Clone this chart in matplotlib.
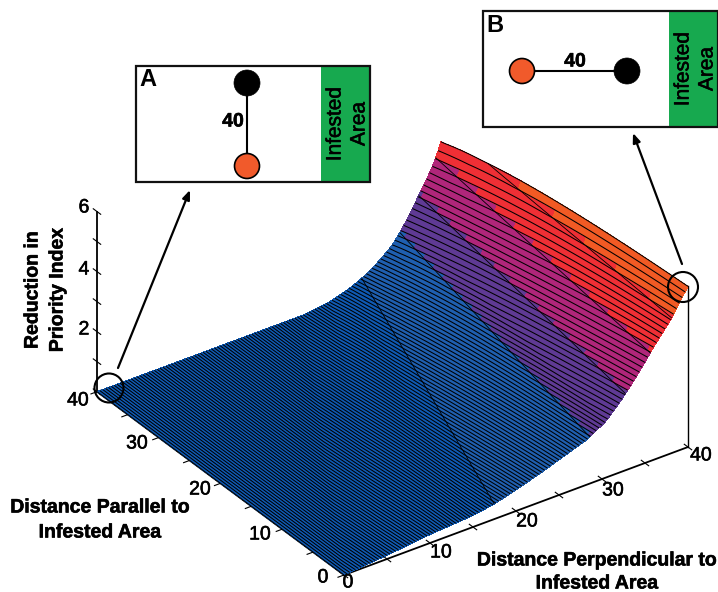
import numpy as np
import matplotlib
matplotlib.use("Agg")
import matplotlib.pyplot as plt
import matplotlib.patheffects as pe
from matplotlib.patches import Circle, Rectangle
from mpl_toolkits.mplot3d import proj3d

plt.rcParams["font.family"] = ["Liberation Sans", "DejaVu Sans"]

W, H = 718, 592

# surface: distance at which each height is reached on the two outer edges
heights = [0, .12, .28, .38, .5, .7, .95, 1.22, 1.5, 1.88, 2.4, 2.98, 3.35, 3.75, 4.1, 4.45, 4.9, 5.35]
x_near = [0, 5, 10, 15, 17.5, 20, 22.8, 25.5, 28.3, 30.5, 32.3, 34, 35, 36, 37, 38, 39, 40]
x_far = [24, 27.2, 29, 29.9, 30.8, 32, 33.2, 34.3, 35.1, 36, 37.1, 38.3, 39, 39.6, 40.05, 40.4, 40.8, 41.2]
y_edges = [0, 40]

band_levels = [0.5, 1.55, 2.55, 3.6, 4.5]
band_colors = ["#0f5ab4", "#1f5fb0", "#5f3a94", "#b0267a", "#ef2f35", "#f15a24"]

tick_x = [0, 5, 10, 15, 20, 25, 30, 35, 40]
tick_z = [0, 1, 2, 3, 4, 5, 6]

# target pixel positions used to fit the 3d box on the page
ORIGIN_PX = (344, 575)
LEFT_PX = (97, 390)
RIGHT_PX = (688, 447)

fig = plt.figure(figsize=(W / 100, H / 100), dpi=100)
side = 900
ax = fig.add_axes([0, 0, side / W, side / H], projection="3d", computed_zorder=False)
ax.patch.set_alpha(0)
ax.set_proj_type("ortho")
ax.view_init(elev=31.7, azim=234.7)
ax.set_xlim(0, 40)
ax.set_ylim(0, 40)
ax.set_zlim(0, 6)
ax.set_axis_off()


def to_px(a, x, y, z):
    xs, ys, _ = proj3d.proj_transform(x, y, z, a.get_proj())
    return a.transData.transform((xs, ys))


# fit scale and position so the base corners land where they do in the figure
ax.set_box_aspect((421, 427, 211.5), zoom=1.0)
ax.apply_aspect()
span = to_px(ax, 40, 0, 0)[0] - to_px(ax, 0, 40, 0)[0]
ax.set_box_aspect((421, 427, 211.5), zoom=(RIGHT_PX[0] - LEFT_PX[0]) / span)
ax.apply_aspect()
p = to_px(ax, 0, 0, 0)
ax.set_position([(ORIGIN_PX[0] - p[0]) / W, ((H - ORIGIN_PX[1]) - p[1]) / H, side / W, side / H])
ax.apply_aspect()

# dense render mesh between the read values, height bands stay straight across the sheet
x = np.linspace(0, 40, 121)
y = np.linspace(0, 40, 81)
X, Y = np.meshgrid(x, y)
Z = np.zeros_like(X)
for i, yy in enumerate(y):
    t = (yy - y_edges[0]) / (y_edges[1] - y_edges[0])
    row_x = np.array(x_near) * (1 - t) + np.array(x_far) * t
    Z[i] = np.interp(x, row_x, heights)

idx = np.digitize(Z, band_levels)
colors = np.array([matplotlib.colors.to_rgba(band_colors[i]) for i in idx.ravel()]).reshape(Z.shape + (4,))

# axis lines and ticks sit under the surface
ax.plot([0, 40], [0, 0], [0, 0], color="k", lw=1.3, zorder=1)
ax.plot([0, 0], [0, 40], [0, 0], color="k", lw=1.3, zorder=1)
ax.plot([0, 0], [40, 40], [0, 6], color="k", lw=1.3, zorder=1)
ax.plot([40, 40], [0, 0], [0, heights[-1]], color="k", lw=1.0, zorder=1)
for t in tick_x:
    ax.plot([t, t], [-0.6, 0.6], [0, 0], color="k", lw=0.8, zorder=1)
    ax.plot([-0.7, 0.5], [t, t], [0, 0], color="k", lw=0.8, zorder=1)
for t in tick_z:
    ax.plot([0, 0], [39.4, 40.6], [t, t], color="k", lw=0.8, zorder=1)

ax.plot_surface(X, Y, Z, facecolors=colors, rstride=1, cstride=1, shade=False,
                linewidth=0, antialiased=False, zorder=2)
ax.plot_wireframe(X, Y, Z, rstride=0, cstride=1, color="k", lw=0.75, zorder=3)
ax.contour(X, Y, Z, levels=band_levels, colors="k", linewidths=0.6, zorder=4)

# page overlay in pixel coordinates: labels, insets, arrows
pg = fig.add_axes([0, 0, 1, 1], zorder=5)
pg.set_xlim(0, W)
pg.set_ylim(H, 0)
pg.axis("off")
pg.patch.set_alpha(0)

heavy = [pe.withStroke(linewidth=0.4, foreground="k")]

tick_labels = [
    (78, 401, "40"), (137, 444, "30"), (200, 490, "20"), (260, 535, "10"), (323, 578, "0"),
    (348, 583, "0"), (441, 553, "10"), (527, 522, "20"), (613, 491, "30"), (701, 456, "40"),
    (84, 208, "6"), (84, 270, "4"), (84, 330, "2"),
]
for tx, ty, s in tick_labels:
    pg.text(tx, ty, s, fontsize=14, ha="center", va="center", color="k", path_effects=heavy)

for tx, ty, s in [(100, 508, "Distance Parallel to"), (100, 533, "Infested Area"),
                  (597, 561, "Distance Perpendicular to"), (597, 584, "Infested Area")]:
    pg.text(tx, ty, s, fontsize=14, fontweight="bold", ha="center", va="center", path_effects=heavy)

pg.text(33, 290, "Reduction in", fontsize=14, fontweight="bold", rotation=90, ha="center", va="center",
        path_effects=heavy)
pg.text(58, 290, "Priority Index", fontsize=14, fontweight="bold", rotation=90, ha="center", va="center",
        path_effects=heavy)


def inset(left, right, top, bottom, green_x, label, label_xy, orange, black, num_xy):
    pg.add_patch(Rectangle((left, top), right - left, bottom - top, fc="white", ec="none"))
    pg.add_patch(Rectangle((green_x, top), right - green_x, bottom - top, fc="#17a94f", ec="none"))
    pg.add_patch(Rectangle((left, top), right - left, bottom - top, fc="none", ec="#111111", lw=1.6))
    pg.plot([orange[0], black[0]], [orange[1], black[1]], color="k", lw=1.5)
    pg.add_patch(Circle(orange, 12.5, fc="#f15a2b", ec="k", lw=1.2, zorder=4))
    pg.add_patch(Circle(black, 13, fc="k", ec="k", lw=0.5, zorder=4))
    pg.text(label_xy[0], label_xy[1], label, fontsize=17, fontweight="bold", ha="center", va="center")
    pg.text(num_xy[0], num_xy[1], "40", fontsize=14, fontweight="bold", ha="center", va="center",
            path_effects=heavy)
    mid = (top + bottom) / 2
    pg.text(green_x + 14, mid, "Infested", fontsize=15, rotation=90, ha="center", va="center", path_effects=heavy)
    pg.text(green_x + 38, mid, "Area", fontsize=15, rotation=90, ha="center", va="center", path_effects=heavy)


inset(136, 370, 66, 182, 321, "A", (148, 79), (247, 166), (247, 83), (233, 122))
inset(483, 717.5, 11, 127, 669, "B", (495, 25), (522, 71), (627, 71), (575, 62))

for start, end in [((118, 368), (190, 190)), ((682, 264), (633, 133))]:
    pg.annotate("", xy=end, xytext=start,
                arrowprops=dict(arrowstyle="-|>,head_length=0.55,head_width=0.22", color="k", lw=1.6,
                                shrinkA=0, shrinkB=0))

pg.add_patch(Circle((109, 388), 14.5, fc="none", ec="k", lw=1.5))
pg.add_patch(Circle((683, 287), 15, fc="none", ec="k", lw=1.5))

fig.savefig("out.png", dpi=100)
